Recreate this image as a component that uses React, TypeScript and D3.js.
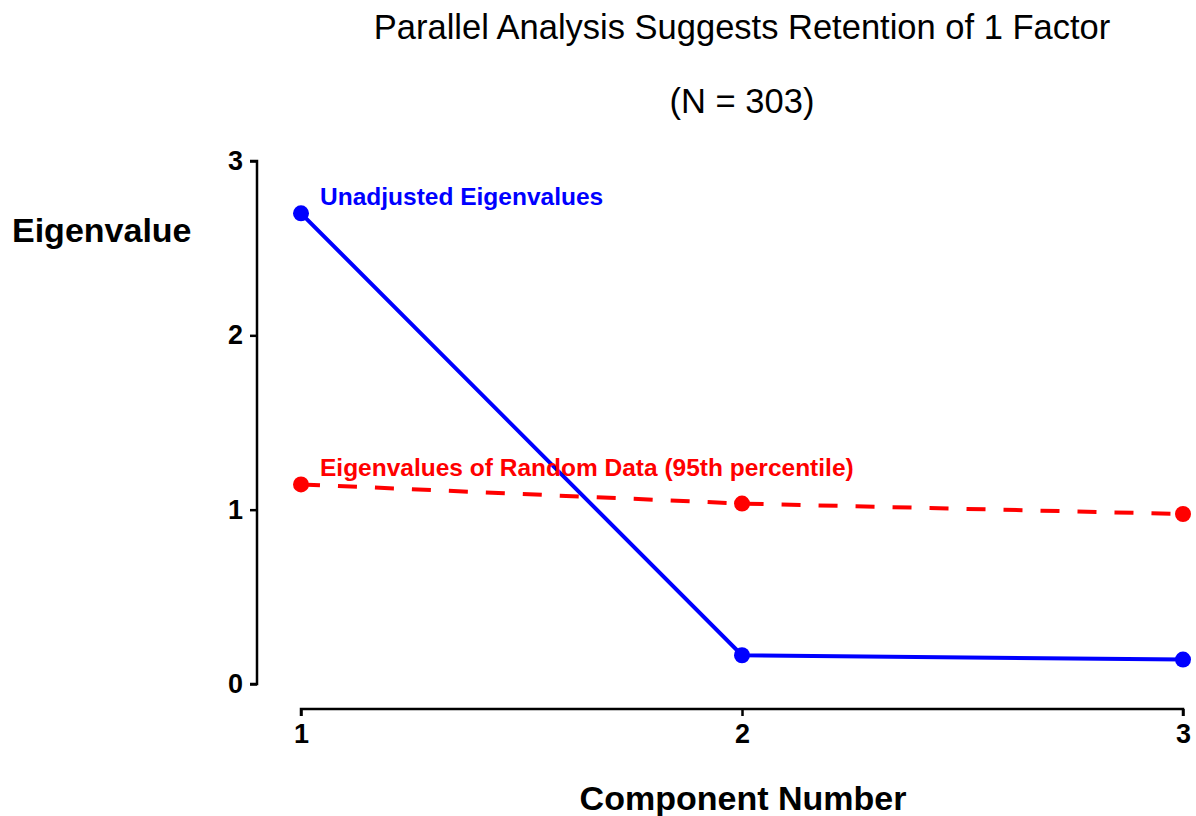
import * as d3 from 'd3';
import { useEffect, useRef } from 'react';

const components = [1, 2, 3];
const unadjusted = [2.7, 0.165, 0.14];
const randomData = [1.145, 1.035, 0.975];
const yTicks = [0, 1, 2, 3];

export default function App() {
    const ref = useRef<SVGSVGElement | null>(null);

    useEffect(() => {
        const svg = d3.select(ref.current);
        svg.selectAll('*').remove();

        const width = 1196;
        const height = 816;
        const font = '"Liberation Sans", Arial, sans-serif';

        const x = d3.scaleLinear().domain([1, 3]).range([301, 1183]);
        const y = d3.scaleLinear().domain([0, 3]).range([684, 161]);

        svg.attr('width', width).attr('height', height).style('font-family', font);

        // titles
        svg.append('text').attr('x', 742).attr('y', 39).attr('text-anchor', 'middle')
            .attr('font-size', 34.5).text('Parallel Analysis Suggests Retention of 1 Factor');
        svg.append('text').attr('x', 742).attr('y', 113).attr('text-anchor', 'middle')
            .attr('font-size', 34.5).text('(N = 303)');

        // y axis
        const yAxis = svg.append('g').attr('transform', 'translate(257,0)')
            .call(d3.axisLeft(y).tickValues(yTicks).tickFormat(d3.format('d')).tickSize(7).tickPadding(7));
        yAxis.select('.domain').attr('stroke-width', 2.5).attr('d', `M-7,${y(3)}H0V${y(0)}H-7`);
        yAxis.selectAll('.tick line').attr('stroke-width', 2.5);
        yAxis.selectAll('.tick text').attr('font-size', 27).attr('font-weight', 'bold')
            .attr('font-family', font).attr('fill', '#000');

        // x axis
        const xAxis = svg.append('g').attr('transform', 'translate(0,709)')
            .call(d3.axisBottom(x).tickValues(components).tickFormat(d3.format('d')).tickSize(7).tickPadding(8));
        xAxis.select('.domain').attr('stroke-width', 2.5).attr('d', `M${x(1)},7V0H${x(3)}V7`);
        xAxis.selectAll('.tick line').attr('stroke-width', 2.5);
        xAxis.selectAll('.tick text').attr('font-size', 27).attr('font-weight', 'bold')
            .attr('font-family', font).attr('fill', '#000');

        // axis titles
        svg.append('text').attr('x', 12).attr('y', 242).attr('font-size', 34)
            .attr('font-weight', 'bold').text('Eigenvalue');
        svg.append('text').attr('x', 743).attr('y', 810).attr('text-anchor', 'middle')
            .attr('font-size', 34).attr('font-weight', 'bold').text('Component Number');

        const line = d3.line<number>().x((_, i) => x(components[i])).y(d => y(d));

        // random data (dashed red)
        svg.append('path').datum(randomData).attr('d', line).attr('fill', 'none')
            .attr('stroke', '#ff0000').attr('stroke-width', 4).attr('stroke-dasharray', '19,18');
        svg.selectAll('.rpt').data(randomData).enter().append('circle')
            .attr('cx', (_, i) => x(components[i])).attr('cy', d => y(d)).attr('r', 8).attr('fill', '#ff0000');

        // unadjusted (solid blue)
        svg.append('path').datum(unadjusted).attr('d', line).attr('fill', 'none')
            .attr('stroke', '#0000ff').attr('stroke-width', 4);
        svg.selectAll('.bpt').data(unadjusted).enter().append('circle')
            .attr('cx', (_, i) => x(components[i])).attr('cy', d => y(d)).attr('r', 8).attr('fill', '#0000ff');

        // labels
        svg.append('text').attr('x', 320).attr('y', 205).attr('font-size', 24.5).attr('font-weight', 'bold')
            .attr('fill', '#0000ff').text('Unadjusted Eigenvalues');
        svg.append('text').attr('x', 320).attr('y', 476).attr('font-size', 24.5).attr('font-weight', 'bold')
            .attr('fill', '#ff0000').text('Eigenvalues of Random Data (95th percentile)');
    }, []);

    return <svg ref={ref} style={{ position: 'absolute', left: 0, top: 0 }}></svg>;
}
